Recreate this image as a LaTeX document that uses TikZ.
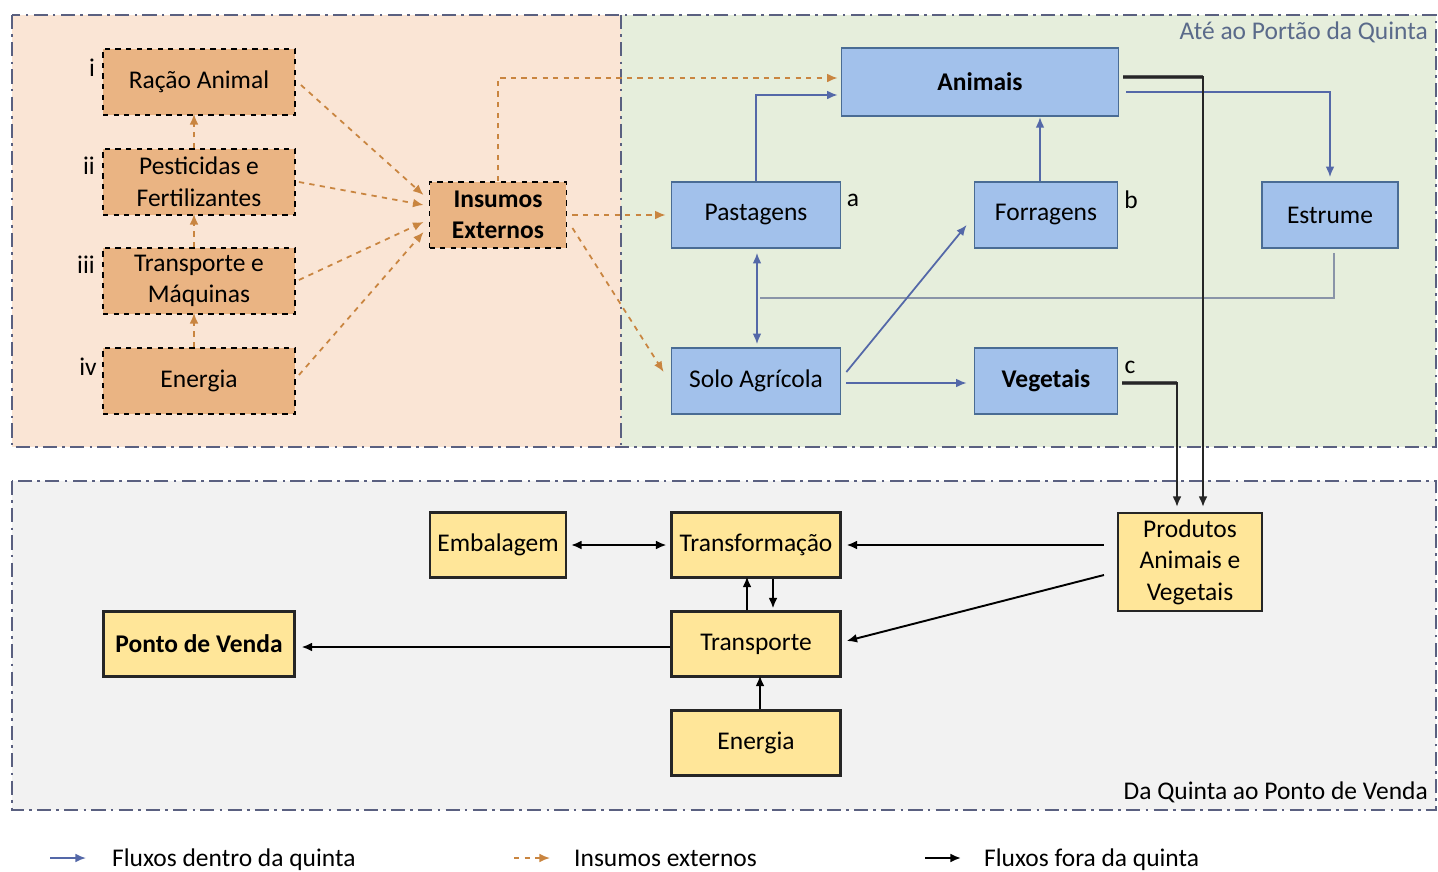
\documentclass[tikz,border=0pt]{standalone}
\usepackage{fontspec}
\setmainfont{Carlito}
\usetikzlibrary{calc,arrows.meta}
\definecolor{peach}{HTML}{FAE5D5}
\definecolor{sage}{HTML}{E6EEDC}
\definecolor{lightgrey}{HTML}{F2F2F2}
\definecolor{extfill}{HTML}{EAB483}
\definecolor{farmfill}{HTML}{A2C1EB}
\definecolor{farmdraw}{HTML}{4A6C94}
\definecolor{outfill}{HTML}{FFE699}
\definecolor{flowblue}{HTML}{5468A8}
\definecolor{flowor}{HTML}{C98540}
\definecolor{rim}{HTML}{5A6080}
\definecolor{rimtext}{HTML}{5A6A8A}
\definecolor{backline}{HTML}{8A94A8}

\begin{document}
\begin{tikzpicture}[x=0.02cm,y=-0.02cm,
  every node/.style={font=\fontsize{14.5}{18}\selectfont},
  region/.style={draw=rim,line width=1pt,dash pattern=on 8pt off 3pt on 1.5pt off 3pt},
  extbox/.style={draw=black,fill=extfill,line width=1.1pt,dashed,align=center,inner sep=0pt,minimum height=1.32cm},
  farmbox/.style={draw=farmdraw,fill=farmfill,line width=1pt,align=center,inner sep=0pt,minimum height=1.32cm},
  outbox/.style={draw=black!85,fill=outfill,line width=1.2pt,align=center,inner sep=0pt,minimum height=1.3cm},
  inflow/.style={draw=flowblue,line width=1pt,-{Latex[length=6pt,width=5pt]}},
  extflow/.style={draw=flowor,line width=1pt,dashed,-{Latex[length=6pt,width=5pt]}},
  outflow/.style={draw=black,line width=1.1pt,-{Latex[length=6pt,width=5pt]}},
  both/.style={{Latex[length=6pt,width=5pt]}-{Latex[length=6pt,width=5pt]}},
  keytext/.style={anchor=base west}]
\useasboundingbox (0,0) rectangle (1438,872);

% zonas
\fill[peach] (12,15) rectangle (621,447);
\fill[sage] (621,15) rectangle (1436,447);
\fill[lightgrey] (12,481) rectangle (1436,810);
\draw[region] (12,15) rectangle (1436,447);
\draw[region] (621,15) -- (621,447);
\draw[region] (12,481) rectangle (1436,810);
\node[left,text=rimtext] (gate) at (1434,32) {Até ao Portão da Quinta};
\node[left] (sale) at (1434,792) {Da Quinta ao Ponto de Venda};

% insumos externos
\node[extbox,minimum width=3.84cm] (racao) at (199,82) {Ração Animal};
\node[extbox,minimum width=3.84cm] (pest) at (199,182) {Pesticidas e\\Fertilizantes};
\node[extbox,minimum width=3.84cm] (maq) at (199,281) {Transporte e\\Máquinas};
\node[extbox,minimum width=3.84cm] (ener) at (199,381) {Energia};
\node[extbox,minimum width=2.74cm,font=\fontsize{14.5}{18}\selectfont\bfseries] (ins) at (498,215) {Insumos\\Externos};
\node (li) at (92,68) {i};
\node (lii) at (89,166) {ii};
\node (liii) at (86,265) {iii};
\node (liv) at (88,367) {iv};

% dentro da quinta
\node[farmbox,minimum width=5.54cm,minimum height=1.36cm,font=\fontsize{14.5}{18}\selectfont\bfseries] (anim) at (980,82) {Animais};
\node[farmbox,minimum width=3.38cm] (past) at (756,215) {Pastagens};
\node[farmbox,minimum width=2.86cm] (forr) at (1046,215) {Forragens};
\node[farmbox,minimum width=2.72cm] (estr) at (1330,215) {Estrume};
\node[farmbox,minimum width=3.38cm] (solo) at (756,381) {Solo Agrícola};
\node[farmbox,minimum width=2.86cm,font=\fontsize{14.5}{18}\selectfont\bfseries] (veg) at (1046,381) {Vegetais};
\node (la) at (853,200) {a};
\node (lb) at (1131,200) {b};
\node (lc) at (1130,367) {c};

% fora da quinta
\node[outbox,minimum width=2.72cm] (emb) at (498,545) {Embalagem};
\node[outbox,minimum width=3.38cm] (transf) at (756,545) {Transformação};
\node[outbox,minimum width=3.38cm] (transp) at (756,644) {Transporte};
\node[outbox,minimum width=3.38cm] (ener2) at (756,743) {Energia};
\node[outbox,minimum width=3.82cm,font=\fontsize{14.5}{18}\selectfont\bfseries] (venda) at (199,644) {Ponto de Venda};
\node[outbox,minimum width=2.88cm,minimum height=1.96cm] (prod) at (1190,562) {Produtos\\Animais e\\Vegetais};

% fluxos externos
\draw[extflow] ($(racao.east)+(5,3)$) -- ($(ins.west)+(-5,-20)$);
\draw[extflow] ($(pest.east)+(3,0)$) -- ($(ins.west)+(-5,-10)$);
\draw[extflow] ($(maq.east)+(3,-1)$) -- ($(ins.west)+(-5,7)$);
\draw[extflow] ($(ener.east)+(3,-6)$) -- ($(ins.west)+(-5,17)$);
\draw[extflow] ($(ener.north)+(-5,0)$) -- ($(maq.south)+(-5,-2)$);
\draw[extflow] ($(maq.north)+(-5,0)$) -- ($(pest.south)+(-5,-2)$);
\draw[extflow] ($(pest.north)+(-5,0)$) -- ($(racao.south)+(-5,-2)$);
\draw[extflow] (ins.north) |- ($(anim.west)+(-3,-4)$);
\draw[extflow] ($(ins.east)+(5,0)$) -- ($(past.west)+(-5,0)$);
\draw[extflow] ($(ins.east)+(5,13)$) -- ($(solo.west)+(-7,-9)$);

% fluxos dentro da quinta
\coordinate (join) at (760,298);
\draw[inflow] (past.north) |- ($(anim.west)+(-3,13)$);
\draw[inflow] ($(forr.north)+(-6,0)$) -- ($(forr.north)+(-6,-64)$);
\draw[inflow] ($(anim.east)+(7,10)$) -| ($(estr.north)+(0,-4)$);
\draw[draw=backline,line width=1.4pt] ($(estr.south)+(4,4)$) |- (join);
\draw[inflow,both] ($(past.south)+(1,4)$) -- ($(solo.north)+(1,-3)$);
\draw[inflow] ($(solo.east)+(5,-9)$) -- ($(forr.west)+(-7,10)$);
\draw[inflow] ($(solo.east)+(5,2)$) -- ($(veg.west)+(-7,2)$);

% fluxos fora da quinta
\draw[draw=black!65,line width=2.2pt] ($(anim.east)+(4,-5)$) -- ($(prod.north |- anim.east)+(13,-5)$);
\draw[outflow,draw=black!85] ($(anim.east)+(4,-5)$) -| ($(prod.north)+(13,-5)$);
\draw[draw=black!65,line width=2pt] ($(veg.east)+(4,2)$) -- ($(prod.north |- veg.east)+(-13,2)$);
\draw[outflow,draw=black!85] ($(veg.east)+(4,2)$) -| ($(prod.north)+(-13,-5)$);
\draw[outflow,both] ($(emb.east)+(4,0)$) -- ($(transf.west)+(-4,0)$);
\draw[outflow] ($(prod.west)+(-13,-17)$) -- ($(transf.east)+(5,0)$);
\draw[outflow] ($(prod.west)+(-13,13)$) -- ($(transp.east)+(5,-3)$);
\draw[outflow] ($(transp.west)+(0,3)$) -- ($(venda.east)+(6,3)$);
\draw[outflow] ($(transp.north)+(-9,0)$) -- ($(transf.south)+(-9,-2)$);
\draw[outflow] ($(transf.south)+(17,0)$) -- ($(transp.north)+(17,-2)$);
\draw[outflow] ($(ener2.north)+(4,0)$) -- ($(transp.south)+(4,-2)$);

% legenda
\coordinate (k1a) at (50,858);
\coordinate (k1b) at (86,858);
\coordinate (k2a) at (514,858);
\coordinate (k2b) at (550,858);
\coordinate (k3a) at (925,858);
\coordinate (k3b) at (961,858);
\draw[inflow] (k1a) -- (k1b);
\draw[extflow] (k2a) -- (k2b);
\draw[outflow] (k3a) -- (k3b);
\node[keytext] (key1) at (106,866) {Fluxos dentro da quinta};
\node[keytext] (key2) at (568,866) {Insumos externos};
\node[keytext] (key3) at (978,866) {Fluxos fora da quinta};
\end{tikzpicture}
\end{document}
